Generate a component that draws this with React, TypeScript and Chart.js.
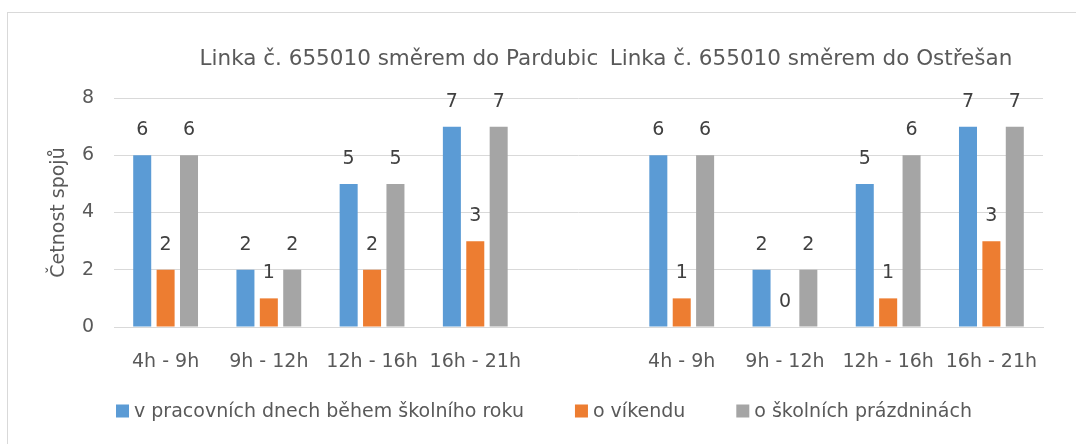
import React, { useEffect, useRef } from "react";
import { Chart, registerables } from "chart.js";

Chart.register(...registerables);

const categories = ["4h - 9h", "9h - 12h", "12h - 16h", "16h - 21h", "", "4h - 9h", "9h - 12h", "12h - 16h", "16h - 21h"];
const workdays = [6, 2, 5, 7, null, 6, 2, 5, 7];
const weekend = [2, 1, 2, 3, null, 1, 0, 1, 3];
const holidays = [6, 2, 5, 7, null, 6, 2, 6, 7];
const seriesNames = ["v pracovních dnech během školního roku", "o víkendu", "o školních prázdninách"];
const seriesColors = ["#5B9BD5", "#ED7D31", "#A5A5A5"];
const groupTitles = ["Linka č. 655010 směrem do Pardubic", "Linka č. 655010 směrem do Ostřešan"];
const yTicks = [0, 2, 4, 6, 8];
const yTitle = "Četnost spojů";

const FONT = "'DejaVu Sans', 'Open Sans', sans-serif";
const TEXT = "#595959";
const SIZE = 19;

const labelPlugin = {
  id: "valueLabels",
  afterDatasetsDraw(chart: any) {
    const ctx = chart.ctx;
    ctx.save();
    ctx.font = `${SIZE}px ${FONT}`;
    ctx.fillStyle = "#404040";
    ctx.textAlign = "center";
    ctx.textBaseline = "middle";
    chart.data.datasets.forEach((ds: any, i: number) => {
      const meta = chart.getDatasetMeta(i);
      meta.data.forEach((el: any, j: number) => {
        const v = ds.data[j];
        if (v === null || v === undefined) return;
        ctx.fillText(String(v), el.x, el.y - 25);
      });
    });
    ctx.restore();
  },
};

const groupTitlePlugin = {
  id: "groupTitles",
  afterDraw(chart: any) {
    const ctx = chart.ctx;
    ctx.save();
    ctx.font = `21.5px ${FONT}`;
    ctx.fillStyle = TEXT;
    ctx.textAlign = "center";
    ctx.textBaseline = "middle";
    ctx.fillText(groupTitles[0], 399, 59);
    ctx.fillText(groupTitles[1], 811, 59);
    ctx.restore();
  },
};

const legendPlugin = {
  id: "customLegend",
  afterDraw(chart: any) {
    const ctx = chart.ctx;
    ctx.save();
    ctx.font = `${SIZE}px ${FONT}`;
    const box = 13;
    const gapText = 5;
    const gapItem = 51;
    const widths = seriesNames.map((n) => box + gapText + ctx.measureText(n).width);
    const total = widths.reduce((a, b) => a + b, 0) + gapItem * (widths.length - 1);
    let x = 544 - total / 2;
    const y = 411;
    ctx.textBaseline = "middle";
    ctx.textAlign = "left";
    seriesNames.forEach((n, i) => {
      ctx.fillStyle = seriesColors[i];
      ctx.fillRect(x, y - box / 2, box, box);
      ctx.fillStyle = TEXT;
      ctx.fillText(n, x + box + gapText, y + 1);
      x += widths[i] + gapItem;
    });
    ctx.restore();
  },
};

export default function App() {
  const ref = useRef<HTMLCanvasElement>(null);
  useEffect(() => {
    const chart = new Chart(ref.current!, {
      type: "bar",
      data: {
        labels: categories,
        datasets: seriesNames.map((name, i) => ({
          label: name,
          data: [workdays, weekend, holidays][i],
          backgroundColor: seriesColors[i],
        })),
      },
      options: {
        responsive: false,
        animation: false,
        devicePixelRatio: 1,
        layout: { padding: { top: 98, left: 46, right: 33, bottom: 67 } },
        datasets: { bar: { categoryPercentage: 0.68, barPercentage: 0.77 } },
        plugins: {
          legend: { display: false },
          tooltip: { enabled: false },
          title: { display: false },
        },
        scales: {
          x: {
            grid: { display: false, drawTicks: false },
            border: { color: "#d9d9d9" },
            ticks: { color: TEXT, font: { family: FONT, size: SIZE }, padding: 24, maxRotation: 0, autoSkip: false },
            afterFit: (scale: any) => {
              scale.height = 50;
            },
          },
          y: {
            min: 0,
            max: 8,
            afterBuildTicks: (scale: any) => {
              scale.ticks = yTicks.map((v) => ({ value: v }));
            },
            afterFit: (scale: any) => {
              scale.width = 68;
            },
            grid: { color: "#d9d9d9", drawTicks: false },
            border: { display: false },
            ticks: { color: TEXT, font: { family: FONT, size: SIZE }, padding: 20 },
            title: { display: true, text: yTitle, color: TEXT, font: { family: FONT, size: SIZE }, padding: { top: 2, bottom: 0 } },
          },
        },
      },
      plugins: [labelPlugin, groupTitlePlugin, legendPlugin],
    });
    return () => chart.destroy();
  }, []);
  return (
    <div style={{ position: "fixed", left: 0, top: 0, width: 1076, height: 444, overflow: "hidden", background: "#fff" }}>
      <div style={{ position: "absolute", left: 7, top: 12, width: 1200, height: 600, border: "1px solid #d9d9d9" }} />
      <canvas ref={ref} width={1076} height={444} style={{ position: "absolute", left: 0, top: 0 }} />
    </div>
  );
}
